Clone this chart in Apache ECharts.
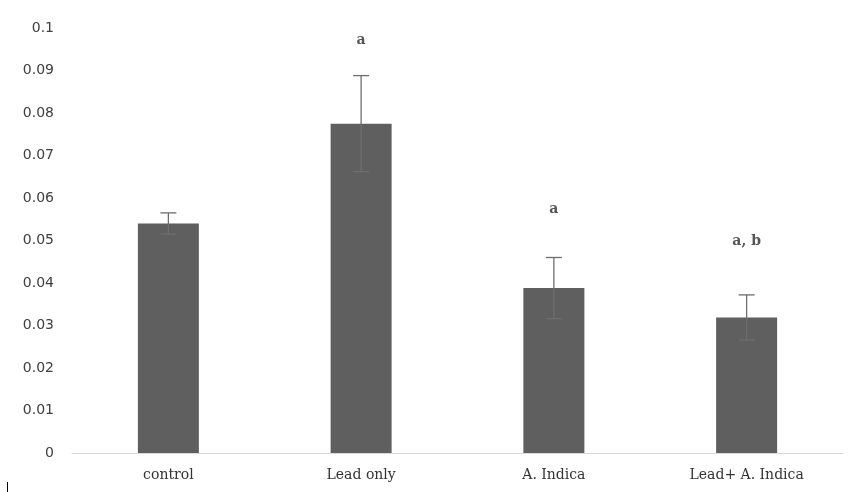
<!DOCTYPE html>
<html><head><meta charset="utf-8">
<script src="https://cdn.jsdelivr.net/npm/echarts@6/dist/echarts.min.js"></script>
<style>html,body{margin:0;padding:0;background:#fff}#c{width:859px;height:492px}</style>
</head><body><div id="c"></div>
<script>
const categories = ['control', 'Lead only', 'A. Indica', 'Lead+ A. Indica'];
const means = [0.054, 0.0775, 0.0388, 0.0319];
const errors = [0.0025, 0.0113, 0.0072, 0.0053];
const sigLabels = ['', 'a', 'a', 'a, b'];
const sigHeights = [null, 0.097, 0.0574, 0.0497];
const yTicks = [0, 0.01, 0.02, 0.03, 0.04, 0.05, 0.06, 0.07, 0.08, 0.09, 0.1];

const chart = echarts.init(document.getElementById('c'));
chart.setOption({
  animation: false,
  grid: {left: 72, right: 16, top: 28, bottom: 39},
  xAxis: {
    type: 'category', data: categories,
    axisLine: {lineStyle: {color: '#d9d9d9', width: 1}},
    axisTick: {show: false},
    axisLabel: {color: '#333333', fontFamily: 'DejaVu Serif', fontSize: 14, margin: 15}
  },
  yAxis: {
    type: 'value', min: 0, max: 0.1, interval: 0.01,
    axisLine: {show: false}, axisTick: {show: false},
    splitLine: {show: false},
    axisLabel: {color: '#404040', fontFamily: 'DejaVu Sans', fontSize: 14, margin: 18,
      formatter: v => String(Math.round(v * 100) / 100)}
  },
  graphic: [{type: 'rect', shape: {x: 7, y: 482, width: 1, height: 10}, style: {fill: '#000'}}],
  series: [
    {type: 'bar', data: means, barWidth: 61, itemStyle: {color: '#5f5f5f'}},
    {
      type: 'custom',
      data: means.map((m, i) => [i, m - errors[i], m + errors[i]]),
      renderItem: (params, api) => {
        const lo = api.coord([api.value(0), api.value(1)]);
        const hi = api.coord([api.value(0), api.value(2)]);
        const w = 8;
        const st = {stroke: '#6e6e6e', lineWidth: 1.3};
        return {type: 'group', children: [
          {type: 'line', shape: {x1: hi[0], y1: hi[1], x2: lo[0], y2: lo[1]}, style: st},
          {type: 'line', shape: {x1: hi[0] - w, y1: hi[1], x2: hi[0] + w, y2: hi[1]}, style: st},
          {type: 'line', shape: {x1: lo[0] - w, y1: lo[1], x2: lo[0] + w, y2: lo[1]}, style: st}
        ]};
      },
      z: 5
    },
    {
      type: 'scatter', symbolSize: 0,
      data: sigHeights.map((h, i) => h == null ? null : {value: [i, h], label: {formatter: sigLabels[i]}}).filter(d => d),
      label: {show: true, position: 'inside', color: '#2b2b2b', fontFamily: 'DejaVu Serif', fontSize: 14, fontWeight: 'bold'}
    }
  ]
});
</script></body></html>
